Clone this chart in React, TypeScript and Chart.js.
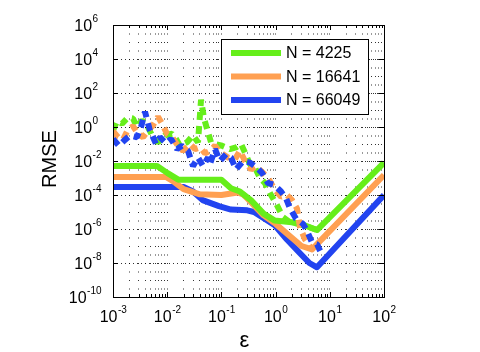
import React, { useEffect, useRef } from 'react';
import { Chart, registerables } from 'chart.js';

Chart.register(...registerables);

// ---------- data ----------
const seriesLabels = ['N = 4225', 'N = 16641', 'N = 66049'];
const seriesColors = ['#66ee1a', '#ffa052', '#2244f0'];

// solid curves
const epsSolidA = [0.001, 0.0065, 0.01, 0.016, 0.05, 0.1, 0.15, 0.22, 0.35, 0.6, 0.95, 2.0, 3.5, 5.8, 100];
const rmseSolidA = [5.1e-3, 5.1e-3, 2.0e-3, 8e-4, 8e-4, 8e-4, 2.5e-4, 1.6e-4, 5e-5, 8e-6, 3.2e-6, 2.5e-6, 1.6e-6, 8.7e-7, 7.9e-3];

const epsSolidB = [0.001, 0.0095, 0.013, 0.02, 0.04, 0.1, 0.2, 0.25, 0.3, 0.6, 1.0, 1.8, 3.0, 4.7, 100];
const rmseSolidB = [1.15e-3, 1.15e-3, 6.3e-4, 2.2e-4, 1.1e-4, 1e-4, 1.4e-4, 1.1e-4, 6.3e-5, 6.3e-6, 2e-6, 4e-7, 1e-7, 6.3e-8, 1.5e-3];

const epsSolidC = [0.001, 0.02, 0.03, 0.045, 0.09, 0.15, 0.3, 0.4, 0.95, 1.6, 2.76, 4.2, 5.8, 100];
const rmseSolidC = [3e-4, 3e-4, 1.6e-4, 5e-5, 2.2e-5, 1.4e-5, 1.26e-5, 1e-5, 1.74e-6, 2.5e-7, 4e-8, 1e-8, 5.6e-9, 1e-4];

// dashed curves
const epsDashA = [0.001, 0.00119, 0.00147, 0.00189, 0.00234, 0.00277, 0.00343, 0.00424, 0.00547, 0.00676, 0.0091, 0.0123, 0.0145, 0.0172, 0.0232, 0.0299, 0.037, 0.0421, 0.0478, 0.0566, 0.0643, 0.0762, 0.103, 0.144, 0.186, 0.23, 0.272, 0.337, 0.417, 0.515, 0.637, 0.789, 1.02, 1.37, 1.85, 2.82, 5.81];
const rmseDashA = [0.63, 2.24, 1.58, 3.55, 3.16, 1.0, 2.5, 1.26, 0.25, 0.126, 0.32, 0.4, 0.2, 0.079, 0.126, 0.32, 0.126, 40, 3.2, 0.5, 0.126, 0.1, 0.079, 0.05, 0.063, 0.1, 0.032, 6.3e-3, 4e-3, 1e-3, 5e-4, 1.26e-4, 3.2e-5, 5e-6, 2.5e-6, 2e-6, 8.7e-7];

const epsDashB = [0.001, 0.00124, 0.00153, 0.00189, 0.00234, 0.00289, 0.00358, 0.00443, 0.00547, 0.00676, 0.00802, 0.0099, 0.0123, 0.0158, 0.0196, 0.0264, 0.0326, 0.0403, 0.0498, 0.0616, 0.0762, 0.0942, 0.132, 0.178, 0.22, 0.272, 0.351, 0.435, 0.586, 0.724, 0.975, 1.26, 1.62, 2.01, 2.48, 2.82, 3.48, 4.7];
const rmseDashB = [0.56, 0.25, 0.18, 0.71, 1.12, 0.4, 0.25, 0.63, 1.26, 4.0, 1.58, 0.4, 0.25, 0.079, 0.04, 0.1, 0.05, 0.063, 0.028, 0.04, 0.079, 0.032, 0.016, 0.0126, 0.04, 0.01, 3.2e-3, 5e-3, 2e-3, 1e-3, 2e-4, 7.9e-5, 1e-4, 5e-5, 1.6e-5, 1.26e-6, 2.5e-7, 6.3e-8];

const epsDashC = [0.001, 0.00129, 0.0016, 0.00206, 0.00277, 0.00329, 0.00389, 0.0048, 0.00621, 0.00736, 0.00951, 0.0117, 0.0152, 0.0187, 0.0242, 0.0299, 0.037, 0.0458, 0.0566, 0.0613, 0.0762, 0.0942, 0.122, 0.15, 0.186, 0.251, 0.337, 0.454, 0.561, 0.724, 0.933, 1.26, 1.56, 1.85, 2.38, 3.21, 3.79, 4.7, 5.81, 6.89];
const rmseDashC = [0.2, 0.079, 0.158, 0.32, 0.25, 1.0, 7.9, 0.63, 0.1, 0.25, 0.112, 0.2, 0.05, 0.079, 0.04, 5e-3, 0.016, 5e-3, 0.016, 6.3e-3, 0.05, 0.01, 0.025, 0.016, 3.2e-3, 0.01, 8e-3, 4e-3, 2e-3, 5e-4, 4e-4, 1.6e-4, 6.3e-5, 1.6e-5, 4e-6, 2e-6, 7.9e-7, 1.6e-7, 1.26e-7, 4e-8];

// axes
const xMin = 1e-3;
const xMax = 1e2;
const yMin = 1e-10;
const yMax = 1e6;
const xMajorTicks = [1e-3, 1e-2, 1e-1, 1, 10, 100];
const xTickExponents = ['-3', '-2', '-1', '0', '1', '2'];
const xMinorMultipliers = [2, 3, 4, 5, 6, 7, 8, 9];
const yMajorTicks = [1e6, 1e4, 1e2, 1, 1e-2, 1e-4, 1e-6, 1e-8, 1e-10];
const yTickExponents = ['6', '4', '2', '0', '-2', '-4', '-6', '-8', '-10'];
const xAxisTitle = 'ε';
const yAxisTitle = 'RMSE';

const pts = (xs: number[], ys: number[]) => xs.map((x, i) => ({ x, y: ys[i] }));

const xGridValues: number[] = [];
xMajorTicks.forEach((m, i) => {
  xGridValues.push(m);
  if (i < xMajorTicks.length - 1) xMinorMultipliers.forEach((k) => xGridValues.push(m * k));
});

const FONT = '"Liberation Sans", Arial, Helvetica, sans-serif';

function drawPow(ctx: CanvasRenderingContext2D, exp: string, x: number, baseline: number, mode: 'center' | 'right') {
  ctx.font = `16px ${FONT}`;
  const w10 = ctx.measureText('10').width;
  ctx.font = `10px ${FONT}`;
  const wExp = ctx.measureText(exp).width;
  const wRef = Math.max(wExp, ctx.measureText('-2').width);
  let left: number;
  if (mode === 'center') left = x - (w10 + wExp) / 2;
  else left = x - (w10 + wRef);
  ctx.textAlign = 'left';
  ctx.textBaseline = 'alphabetic';
  ctx.fillStyle = '#000';
  ctx.font = `16px ${FONT}`;
  ctx.fillText('10', left, baseline);
  ctx.font = `10px ${FONT}`;
  ctx.fillText(exp, left + w10 + 0.5, baseline - 9);
}

const overlay = {
  id: 'overlay',
  afterDraw(chart: any) {
    const { ctx, chartArea: a, scales } = chart;
    const xs = scales.x;
    const ys = scales.y;
    ctx.save();
    // box
    ctx.strokeStyle = '#000';
    ctx.lineWidth = 1;
    ctx.setLineDash([]);
    ctx.strokeRect(Math.round(a.left) + 0.5, Math.round(a.top) + 0.5, Math.round(a.right - a.left), Math.round(a.bottom - a.top));
    // tick marks
    ctx.beginPath();
    xGridValues.forEach((v) => {
      const px = Math.round(xs.getPixelForValue(v)) + 0.5;
      const len = xMajorTicks.includes(v) ? 5 : 3;
      ctx.moveTo(px, a.bottom);
      ctx.lineTo(px, a.bottom - len);
      ctx.moveTo(px, a.top);
      ctx.lineTo(px, a.top + len);
    });
    yMajorTicks.forEach((v) => {
      const py = Math.round(ys.getPixelForValue(v)) + 0.5;
      ctx.moveTo(a.left, py);
      ctx.lineTo(a.left + 5, py);
      ctx.moveTo(a.right, py);
      ctx.lineTo(a.right - 5, py);
    });
    ctx.stroke();

    // tick labels
    xMajorTicks.forEach((v, i) => {
      drawPow(ctx, xTickExponents[i], xs.getPixelForValue(v), a.bottom + 25, 'center');
    });
    yMajorTicks.forEach((v, i) => {
      drawPow(ctx, yTickExponents[i], a.left - 12, ys.getPixelForValue(v) + 6, 'right');
    });

    // axis titles
    ctx.fillStyle = '#000';
    ctx.font = `22px ${FONT}`;
    ctx.textAlign = 'center';
    ctx.textBaseline = 'alphabetic';
    ctx.fillText(xAxisTitle, (a.left + a.right) / 2 - 4, a.bottom + 50);
    ctx.save();
    ctx.translate(56, (a.top + a.bottom) / 2 - 2);
    ctx.rotate(-Math.PI / 2);
    ctx.font = `20px ${FONT}`;
    ctx.fillText(yAxisTitle, 0, 0);
    ctx.restore();

    // legend
    const lx = 221.5, ly = 39.5, lw = 147, lh = 75;
    ctx.fillStyle = '#fff';
    ctx.fillRect(lx, ly, lw, lh);
    ctx.strokeStyle = '#000';
    ctx.lineWidth = 1;
    ctx.strokeRect(lx, ly, lw, lh);
    seriesLabels.forEach((lab, i) => {
      const y = 53 + i * 23.5;
      ctx.strokeStyle = seriesColors[i];
      ctx.lineWidth = 6;
      ctx.beginPath();
      ctx.moveTo(231, y);
      ctx.lineTo(281, y);
      ctx.stroke();
      ctx.fillStyle = '#000';
      ctx.font = `16px ${FONT}`;
      ctx.textAlign = 'left';
      ctx.textBaseline = 'middle';
      ctx.fillText(lab, 286, y + 1);
    });
    ctx.restore();
  },
};

export default function App() {
  const ref = useRef<HTMLCanvasElement | null>(null);
  useEffect(() => {
    if (!ref.current) return;
    const solid = (i: number, xsv: number[], ysv: number[], order: number) => ({
      label: seriesLabels[i],
      data: pts(xsv, ysv),
      borderColor: seriesColors[i],
      backgroundColor: seriesColors[i],
      borderWidth: 6,
      pointRadius: 0,
      fill: false,
      tension: 0,
      borderJoinStyle: 'round' as const,
      order,
    });
    const dashed = (i: number, xsv: number[], ysv: number[], order: number) => ({
      ...solid(i, xsv, ysv, order),
      label: seriesLabels[i] + ' (dashed)',
      borderDash: [8, 6],
      borderJoinStyle: 'bevel' as const,
    });
    const chart = new Chart(ref.current, {
      type: 'line',
      data: {
        datasets: [
          solid(0, epsSolidA, rmseSolidA, 3),
          solid(1, epsSolidB, rmseSolidB, 4),
          solid(2, epsSolidC, rmseSolidC, 5),
          dashed(0, epsDashA, rmseDashA, 2),
          dashed(1, epsDashB, rmseDashB, 1),
          dashed(2, epsDashC, rmseDashC, 0),
        ],
      },
      options: {
        animation: false,
        responsive: false,
        devicePixelRatio: 1,
        layout: { padding: { left: 113, top: 25, right: 96, bottom: 55 } },
        plugins: { legend: { display: false }, tooltip: { enabled: false } },
        scales: {
          x: {
            type: 'logarithmic',
            min: xMin,
            max: xMax,
            afterBuildTicks: (scale: any) => {
              scale.ticks = xGridValues.map((v) => ({ value: v }));
            },
            ticks: { display: false },
            border: { display: false, dash: [1, 7.5] },
            grid: { drawTicks: false, color: 'rgba(0,0,0,0.8)', lineWidth: 1 },
          },
          y: {
            type: 'logarithmic',
            min: yMin,
            max: yMax,
            afterBuildTicks: (scale: any) => {
              scale.ticks = yMajorTicks.map((v) => ({ value: v }));
            },
            ticks: { display: false },
            border: { display: false, dash: [1, 3] },
            grid: { drawTicks: false, color: 'rgba(0,0,0,0.8)', lineWidth: 1 },
          },
        },
      },
      plugins: [overlay],
    } as any);
    return () => chart.destroy();
  }, []);
  return (
    <div style={{ position: 'fixed', left: 0, top: 0, width: 480, height: 352, background: '#fff' }}>
      <canvas ref={ref} width={480} height={352} style={{ display: 'block' }} />
    </div>
  );
}
